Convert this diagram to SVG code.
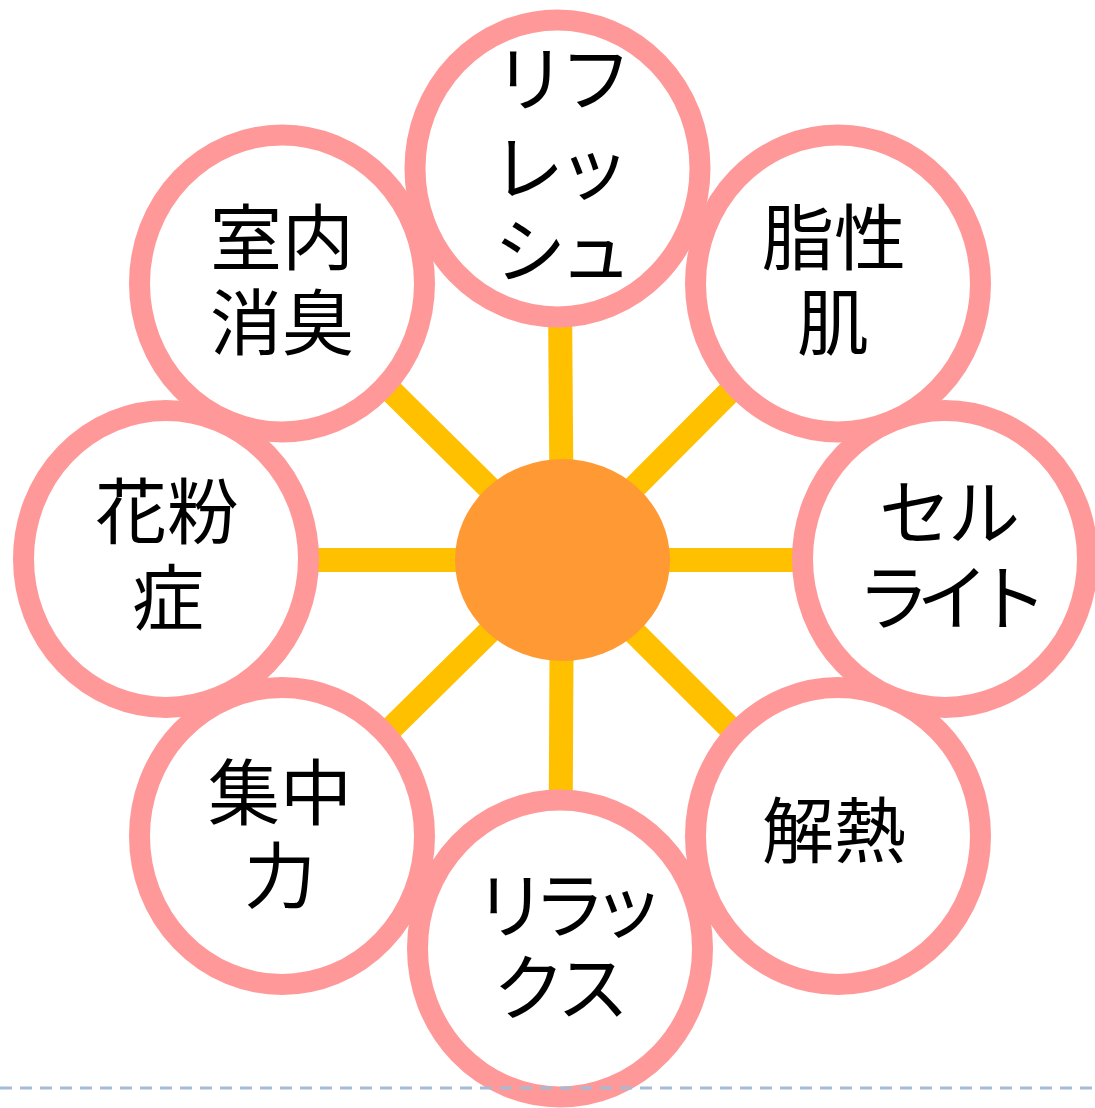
<svg xmlns="http://www.w3.org/2000/svg" width="1095" height="1108" viewBox="0 0 1095 1108">
<style>
.ring{fill:#FFFFFF;stroke:#FF9999;stroke-width:21}
.conn{stroke:#FFC000;stroke-width:24;fill:none}
.lbl{font-family:"Noto Sans CJK JP","Noto Sans",sans-serif;font-size:72px;fill:#000000;text-anchor:middle}
.k3{letter-spacing:-13px}
.k2{letter-spacing:-6px}
</style>
<rect width="1095" height="1108" fill="#FFFFFF"/>
<g id="connectors">
<line class="conn" x1="562" y1="560" x2="559" y2="168"/>
<line class="conn" x1="562" y1="560" x2="838" y2="283"/>
<line class="conn" x1="562" y1="560" x2="945" y2="560"/>
<line class="conn" x1="562" y1="560" x2="838" y2="836"/>
<line class="conn" x1="562" y1="560" x2="560" y2="948"/>
<line class="conn" x1="562" y1="560" x2="282" y2="836"/>
<line class="conn" x1="562" y1="560" x2="166" y2="560"/>
<line class="conn" x1="562" y1="560" x2="282" y2="283"/>
</g>
<g id="center">
<ellipse cx="562.5" cy="560" rx="107.5" ry="101" fill="#FF9933"/>
</g>
<g id="node-shitsunai">
<ellipse class="ring" cx="282" cy="283.5" rx="142.5" ry="148.5"/>
<text class="lbl" x="282" y="264">室内</text>
<text class="lbl" x="282" y="349">消臭</text>
</g>
<g id="node-kafunsho">
<ellipse class="ring" cx="166" cy="559" rx="142.5" ry="148.5"/>
<text class="lbl" x="167" y="538">花粉</text>
<text class="lbl" x="168" y="624">症</text>
</g>
<g id="node-shuchuryoku">
<ellipse class="ring" cx="282" cy="836" rx="142.5" ry="148.5"/>
<text class="lbl" x="280" y="819">集中</text>
<text class="lbl" x="280" y="902">力</text>
</g>
<g id="node-relax">
<ellipse class="ring" cx="560" cy="948.5" rx="142.5" ry="148.5"/>
<text class="lbl k3" x="563" y="932">リラッ</text>
<text class="lbl k2" x="558" y="1014">クス</text>
</g>
<g id="node-genetsu">
<ellipse class="ring" cx="838" cy="836" rx="142.5" ry="148.5"/>
<text class="lbl" x="834" y="857">解熱</text>
</g>
<g id="node-cellulite">
<ellipse class="ring" cx="945" cy="559" rx="142.5" ry="148.5"/>
<text class="lbl" x="948" y="539" style="letter-spacing:-3px">セル</text>
<text class="lbl k3" x="946" y="624">ライト</text>
</g>
<g id="node-shiseihada">
<ellipse class="ring" cx="838" cy="283.5" rx="142.5" ry="148.5"/>
<text class="lbl" x="834" y="264">脂性</text>
<text class="lbl" x="833" y="349">肌</text>
</g>
<g id="node-refresh">
<ellipse class="ring" cx="557.5" cy="168.5" rx="142.5" ry="148.5"/>
<text class="lbl k2" x="560" y="105">リフ</text>
<text class="lbl k2" x="558" y="194">レッ</text>
<text class="lbl k2" x="560" y="277">シュ</text>
</g>
<line x1="0" y1="1088" x2="1095" y2="1088" stroke="#A6BCD5" stroke-width="3" stroke-dasharray="12 8"/>
</svg>
